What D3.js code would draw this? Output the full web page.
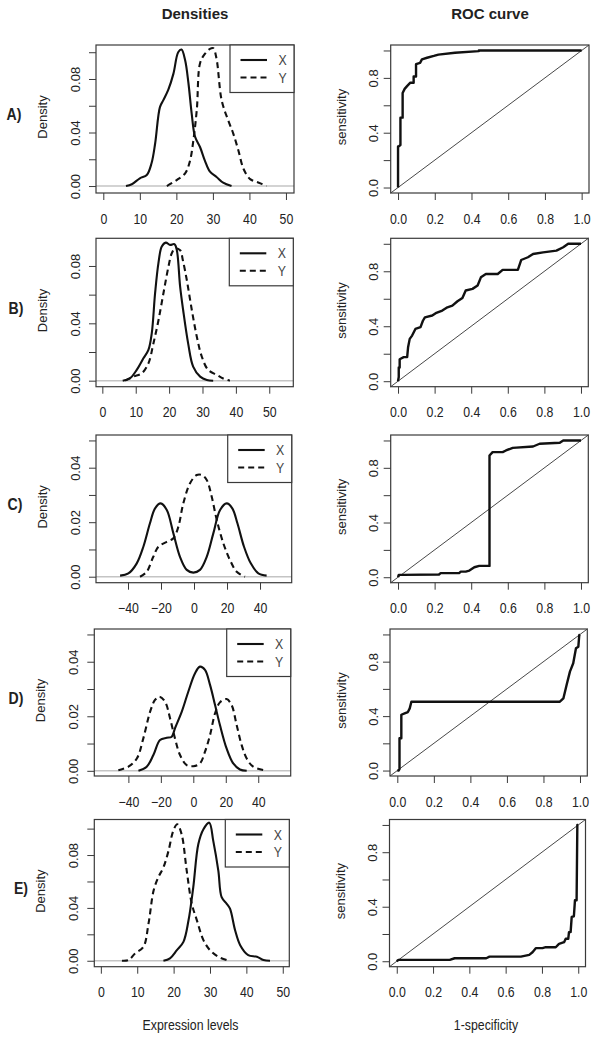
<!DOCTYPE html>
<html>
<head>
<meta charset="utf-8">
<script src="https://cdn.jsdelivr.net/npm/d3@7"></script>
<style>
  html, body { margin: 0; padding: 0; background: #fff; }
  svg { display: block; }
</style>
</head>
<body>
<svg id="chart" width="600" height="1040"></svg>
<script>
// ---------------- DATA ----------------
const panelLabels = ["A)", "B)", "C)", "D)", "E)"];
const seriesNames = ["X", "Y"];
const titleLeft = "Densities";
const titleRight = "ROC curve";
const xLabelLeft = "Expression levels";
const xLabelRight = "1-specificity";
const yLabelLeft = "Density";
const yLabelRight = "sensitivity";

const ticksPos50 = [0, 10, 20, 30, 40, 50];
const ticksPos40 = [-40, -20, 0, 20, 40];
const ticksDen10 = [0, 0.02, 0.04, 0.06, 0.08, 0.10];
const ticksDen08 = [0, 0.02, 0.04, 0.06, 0.08];
const ticksDen05 = [0, 0.01, 0.02, 0.03, 0.04, 0.05];
const ticksRoc = [0, 0.2, 0.4, 0.6, 0.8, 1.0];

// Panel A densities
const A_X_pos = [6.2, 7.8, 10.0, 11.9, 13.2, 14.2, 15.5, 16.4, 17.8, 19.2, 20.5, 21.4, 22.4, 23.3, 24.2, 25.1, 26.5, 27.8, 29.2, 31.0, 32.8, 35.1];
const A_X_den = [0, 0.0013, 0.0058, 0.0082, 0.017, 0.032, 0.059, 0.064, 0.072, 0.084, 0.100, 0.102, 0.094, 0.077, 0.054, 0.037, 0.029, 0.019, 0.0107, 0.0068, 0.0025, 0];
const A_Y_pos = [17.4, 20.1, 22.4, 23.7, 24.6, 25.6, 26.5, 27.8, 29.2, 30.1, 31.0, 32.4, 34.2, 35.6, 37.0, 38.4, 40.2, 42.4, 44.7];
const A_Y_den = [0, 0.0045, 0.0095, 0.0185, 0.033, 0.0573, 0.092, 0.0987, 0.1025, 0.103, 0.095, 0.064, 0.049, 0.039, 0.0264, 0.0127, 0.0052, 0.0027, 0];
// Panel B densities
const B_X_pos = [6.1, 8.3, 10.3, 12.3, 13.8, 14.8, 15.8, 16.8, 17.8, 19.0, 20.3, 21.6, 22.3, 23.3, 24.2, 25.7, 27.2, 29.3, 31.3, 33.2];
const B_X_den = [0, 0.0017, 0.0075, 0.0156, 0.0214, 0.033, 0.061, 0.082, 0.0935, 0.0963, 0.0947, 0.0952, 0.0912, 0.0656, 0.0493, 0.026, 0.0098, 0.0028, 0.0005, 0];
const B_Y_pos = [6.8, 9.3, 11.8, 13.8, 15.3, 16.8, 18.3, 19.8, 20.8, 21.8, 23.3, 24.1, 25.3, 26.8, 28.3, 29.8, 31.7, 34.3, 36.2, 38.2];
const B_Y_den = [0, 0.0028, 0.0051, 0.0121, 0.026, 0.042, 0.061, 0.0795, 0.0889, 0.0923, 0.091, 0.0842, 0.0702, 0.0493, 0.0307, 0.0167, 0.0075, 0.004, 0.0015, 0];
// Panel C densities
const C_X_pos = [-44.8, -39.8, -34.7, -30.7, -26.7, -23.6, -20.2, -16.5, -12.5, -8.5, -4.4, -0.4, 3.6, 7.7, 11.7, 15.8, 19.8, 23.2, 26.3, 30.3, 34.4, 39.0, 44.0];
const C_X_den = [0.0004, 0.0012, 0.0049, 0.011, 0.0196, 0.0251, 0.0269, 0.0245, 0.0159, 0.0073, 0.0025, 0.0015, 0.0025, 0.0073, 0.0159, 0.0245, 0.0269, 0.0251, 0.0196, 0.011, 0.0049, 0.0012, 0.0004];
const C_Y_pos = [-32.7, -28.7, -24.7, -21.6, -16.5, -12.5, -9.5, -6.5, -2.4, 1.6, 4.7, 7.7, 10.7, 13.8, 17.8, 21.8, 25.9, 30.9];
const C_Y_den = [0, 0.0018, 0.0073, 0.011, 0.0128, 0.0141, 0.0183, 0.0269, 0.0343, 0.0373, 0.0373, 0.0355, 0.0294, 0.0208, 0.0122, 0.0061, 0.0018, 0];
// Panel D densities
const D_X_pos = [-33.8, -28.7, -24.6, -20.5, -16.4, -13.3, -11.3, -7.1, -3.1, 1.0, 4.1, 7.2, 10.3, 13.4, 16.4, 20.5, 24.6, 28.7, 32.9];
const D_X_den = [0, 0.0015, 0.0058, 0.0113, 0.0121, 0.0125, 0.0156, 0.0217, 0.029, 0.0357, 0.0382, 0.037, 0.0315, 0.0241, 0.0168, 0.0082, 0.0027, 0.0005, 0];
const D_Y_pos = [-46.2, -40.0, -34.8, -30.8, -26.6, -23.6, -20.9, -17.4, -14.3, -11.3, -8.2, -4.1, 0, 4.1, 7.2, 10.3, 13.4, 16.4, 20.5, 23.6, 26.7, 29.8, 32.9, 36.9, 44.1];
const D_Y_den = [0.0002, 0.0015, 0.0045, 0.0119, 0.0217, 0.026, 0.0272, 0.0253, 0.0192, 0.0119, 0.0058, 0.0021, 0.0017, 0.0027, 0.007, 0.0131, 0.0211, 0.0251, 0.0263, 0.0241, 0.0168, 0.0094, 0.0045, 0.0015, 0.0002];
// Panel E densities
const E_X_pos = [17.2, 19.0, 20.9, 22.7, 24.1, 25.4, 26.8, 28.2, 29.8, 30.9, 32.3, 33.2, 34.6, 35.5, 36.9, 38.3, 40.5, 42.9, 44.7, 46.5];
const E_X_den = [0, 0.0018, 0.008, 0.0143, 0.0306, 0.0556, 0.0883, 0.0995, 0.1045, 0.0907, 0.068, 0.0481, 0.0431, 0.0394, 0.0231, 0.0118, 0.0043, 0.003, 0.0005, 0];
const E_Y_pos = [5.8, 7.6, 9.4, 11.7, 13.1, 14.5, 15.8, 17.2, 18.6, 19.9, 21.0, 22.2, 23.6, 25.0, 26.4, 28.2, 30.0, 32.3, 35.1];
const E_Y_den = [0, 0.0005, 0.0055, 0.0105, 0.0281, 0.0531, 0.0632, 0.0707, 0.0832, 0.0983, 0.1033, 0.0958, 0.0682, 0.0431, 0.0306, 0.0156, 0.008, 0.003, 0];

// ROC curves (1-specificity, sensitivity)
const A_roc_fpr = [0, 0, 0.004, 0.013, 0.013, 0.025, 0.025, 0.036, 0.049, 0.067, 0.085, 0.085, 0.098, 0.098, 0.12, 0.13, 0.158, 0.195, 0.22, 0.31, 0.44, 0.44, 1.0];
const A_roc_tpr = [0, 0.30, 0.30, 0.31, 0.51, 0.51, 0.69, 0.72, 0.74, 0.765, 0.765, 0.81, 0.81, 0.90, 0.91, 0.935, 0.947, 0.96, 0.97, 0.983, 0.995, 1.0, 1.0];
const B_roc_fpr = [0, 0.004, 0.004, 0.009, 0.009, 0.031, 0.05, 0.055, 0.064, 0.077, 0.095, 0.123, 0.136, 0.147, 0.187, 0.206, 0.242, 0.27, 0.297, 0.325, 0.352, 0.37, 0.407, 0.435, 0.453, 0.48, 0.545, 0.572, 0.655, 0.673, 0.71, 0.738, 0.793, 0.866, 0.903, 0.93, 1.0];
const B_roc_tpr = [0, 0.03, 0.10, 0.10, 0.16, 0.175, 0.175, 0.247, 0.308, 0.332, 0.38, 0.393, 0.44, 0.465, 0.478, 0.495, 0.514, 0.538, 0.55, 0.582, 0.606, 0.66, 0.672, 0.696, 0.756, 0.78, 0.78, 0.81, 0.81, 0.882, 0.902, 0.926, 0.938, 0.95, 0.975, 1.0, 1.0];
const C_roc_fpr = [0, 0.004, 0.022, 0.224, 0.233, 0.334, 0.343, 0.37, 0.39, 0.417, 0.444, 0.5, 0.5, 0.517, 0.572, 0.59, 0.627, 0.738, 0.774, 0.884, 0.903, 1.0];
const C_roc_tpr = [0, 0.017, 0.017, 0.02, 0.03, 0.03, 0.041, 0.041, 0.049, 0.073, 0.083, 0.083, 0.89, 0.915, 0.915, 0.927, 0.946, 0.956, 0.976, 0.983, 1.0, 1.0];
const D_roc_fpr = [0, 0.007, 0.012, 0.012, 0.022, 0.022, 0.04, 0.058, 0.068, 0.077, 0.89, 0.909, 0.927, 0.945, 0.963, 0.978, 0.991, 0.996, 1.0];
const D_roc_tpr = [0, 0, 0.01, 0.237, 0.237, 0.41, 0.42, 0.43, 0.457, 0.506, 0.506, 0.53, 0.63, 0.727, 0.788, 0.898, 0.91, 0.995, 1.0];
const E_roc_fpr = [0, 0.009, 0.292, 0.319, 0.493, 0.511, 0.684, 0.73, 0.748, 0.766, 0.803, 0.821, 0.876, 0.894, 0.922, 0.931, 0.945, 0.949, 0.958, 0.964, 0.976, 0.982, 0.991, 0.995, 1.0];
const E_roc_tpr = [0, 0.01, 0.01, 0.022, 0.022, 0.034, 0.034, 0.047, 0.066, 0.096, 0.096, 0.103, 0.103, 0.128, 0.14, 0.165, 0.165, 0.214, 0.214, 0.325, 0.33, 0.448, 0.448, 1.0, 1.0];

// ---------------- LAYOUT ----------------
const FONT = "'Liberation Sans', Arial, Helvetica, sans-serif";
const INK = "#222";
const BOX = "#3a3a3a";
const SX = 0.88; // horizontal squeeze of the original raster text

const rows = [
  { top: 45,    bottom: 193,   lx0: 96,   lx1: 294,   rx0: 390.7, rx1: 589,
    xd: [-2.0, 52.2], yd: [-0.0052, 0.1054], xt: ticksPos50, yt: ticksDen10,
    X: [A_X_pos, A_X_den], Y: [A_Y_pos, A_Y_den], roc: [A_roc_fpr, A_roc_tpr], lab: [14, 0] },
  { top: 238.3, bottom: 386.7, lx0: 96,   lx1: 293.3, rx0: 390.7, rx1: 588.3,
    xd: [-1.9, 57.2], yd: [-0.0042, 0.0993], xt: ticksPos50, yt: ticksDen08,
    X: [B_X_pos, B_X_den], Y: [B_Y_pos, B_Y_den], roc: [B_roc_fpr, B_roc_tpr], lab: [16, 0] },
  { top: 435,   bottom: 582.7, lx0: 96,   lx1: 291.7, rx0: 390.7, rx1: 588.3,
    xd: [-59.4, 59.2], yd: [-0.0022, 0.052], xt: ticksPos40, yt: ticksDen05,
    X: [C_X_pos, C_X_den], Y: [C_Y_pos, C_Y_den], roc: [C_roc_fpr, C_roc_tpr], lab: [15, 0] },
  { top: 629,   bottom: 776,   lx0: 94.3, lx1: 290.7, rx0: 390,   rx1: 587.3,
    xd: [-61, 60], yd: [-0.0019, 0.052], xt: ticksPos40, yt: ticksDen05,
    X: [D_X_pos, D_X_den], Y: [D_Y_pos, D_Y_den], roc: [D_roc_fpr, D_roc_tpr], lab: [16, 0] },
  { top: 819.5, bottom: 966.7, lx0: 94.3, lx1: 289.3, rx0: 389.5, rx1: 585.5,
    xd: [-1.8, 51.8], yd: [-0.0045, 0.1069], xt: ticksPos50, yt: ticksDen10,
    X: [E_X_pos, E_X_den], Y: [E_Y_pos, E_Y_den], roc: [E_roc_fpr, E_roc_tpr], lab: [21, 0] }
];

const svg = d3.select("#chart");
svg.append("rect").attr("width", 600).attr("height", 1040).attr("fill", "#fff");

function hText(g, x, y, str, size, weight, anchor) {
  return g.append("text")
    .attr("transform", `translate(${x},${y}) scale(${SX},1)`)
    .attr("text-anchor", anchor || "middle")
    .attr("font-family", FONT)
    .attr("font-size", size)
    .attr("font-weight", weight || "normal")
    .attr("fill", INK)
    .text(str);
}
function vText(g, x, y, str, size) {
  return g.append("text")
    .attr("transform", `translate(${x},${y}) rotate(-90)`)
    .attr("text-anchor", "middle")
    .attr("dy", "0.35em")
    .attr("font-family", FONT)
    .attr("font-size", size)
    .attr("fill", INK)
    .text(str);
}

function styleBottomAxis(g) {
  g.select(".domain").remove();
  g.selectAll(".tick line").attr("stroke", BOX).attr("stroke-width", 1);
  g.selectAll(".tick text")
    .attr("y", null).attr("dy", null)
    .attr("transform", `translate(0,30.5) scale(${SX},1)`)
    .attr("font-family", FONT).attr("font-size", 14).attr("fill", INK);
}
function styleLeftAxis(g, off) {
  g.select(".domain").remove();
  g.selectAll(".tick line").attr("stroke", BOX).attr("stroke-width", 1);
  g.selectAll(".tick text")
    .attr("x", null).attr("dy", "0.35em")
    .attr("transform", `translate(${-off},0) rotate(-90)`)
    .attr("text-anchor", "middle")
    .attr("font-family", FONT).attr("font-size", 13).attr("fill", INK);
}

// titles
svg.append("text").attr("x", 195).attr("y", 19).attr("text-anchor", "middle")
  .attr("font-family", FONT).attr("font-size", 15).attr("font-weight", "bold").attr("fill", INK).text(titleLeft);
svg.append("text").attr("x", 490).attr("y", 19).attr("text-anchor", "middle")
  .attr("font-family", FONT).attr("font-size", 15).attr("font-weight", "bold").attr("fill", INK).text(titleRight);

const dens = d3.line().curve(d3.curveCatmullRom.alpha(0.5));
const lin = d3.line();

rows.forEach((r, i) => {
  const mid = (r.top + r.bottom) / 2;

  // ---------- density panel ----------
  const xs = d3.scaleLinear().domain(r.xd).range([r.lx0, r.lx1]);
  const ys = d3.scaleLinear().domain(r.yd).range([r.bottom, r.top]);
  const g = svg.append("g");

  // zero line
  g.append("line").attr("x1", r.lx0).attr("x2", r.lx1)
    .attr("y1", ys(0)).attr("y2", ys(0))
    .attr("stroke", "#c4c4c4").attr("stroke-width", 1.4);

  const seriesXY = [r.X, r.Y];
  seriesXY.forEach((s, k) => {
    const pts = s[0].map((v, j) => [xs(v), ys(s[1][j])]);
    g.append("path").attr("d", dens(pts))
      .attr("fill", "none").attr("stroke", "#111").attr("stroke-width", 2.1)
      .attr("stroke-linejoin", "round")
      .attr("stroke-dasharray", k === 1 ? "6,4" : null);
  });

  // box
  g.append("rect").attr("x", r.lx0).attr("y", r.top)
    .attr("width", r.lx1 - r.lx0).attr("height", r.bottom - r.top)
    .attr("fill", "none").attr("stroke", BOX).attr("stroke-width", 1.2);

  // axes
  const fmtX = d3.format("d");
  const fmtY = r.yt.length === 6 && r.yt[5] < 0.07 ? d3.format(".2f") : d3.format(".2f");
  g.append("g").attr("transform", `translate(0,${r.bottom})`)
    .call(d3.axisBottom(xs).tickValues(r.xt).tickSize(7).tickFormat(fmtX))
    .call(styleBottomAxis);
  g.append("g").attr("transform", `translate(${r.lx0},0)`)
    .call(d3.axisLeft(ys).tickValues(r.yt).tickSize(7)
      .tickFormat((d, j) => j % 2 === 0 && j < 5 ? fmtY(d) : ""))
    .call(g2 => styleLeftAxis(g2, 20.5));

  // legend
  const lw = 64, lh = 47.5;
  const lx = r.lx1 - lw, ly = r.top;
  g.append("rect").attr("x", lx).attr("y", ly).attr("width", lw).attr("height", lh)
    .attr("fill", "#fff").attr("stroke", BOX).attr("stroke-width", 1.2);
  seriesNames.forEach((nm, k) => {
    const yy = ly + 15 + k * 17.5;
    g.append("line").attr("x1", lx + 10.5).attr("x2", lx + 37).attr("y1", yy).attr("y2", yy)
      .attr("stroke", "#111").attr("stroke-width", 2.1)
      .attr("stroke-dasharray", k === 1 ? "6,4" : null);
    hText(g, lx + 52.5, yy + 5, nm, 14, "normal", "middle").attr("fill", "#444");
  });

  // y label and panel label
  vText(g, r.lx0 - 54, mid - 2, yLabelLeft, 13);
  hText(g, r.lab[0], mid - 5 + 6, panelLabels[i], 16, "bold", "middle");

  // ---------- ROC panel ----------
  const rx = d3.scaleLinear().domain([-0.04, 1.04]).range([r.rx0, r.rx1]);
  const ry = d3.scaleLinear().domain([-0.04, 1.04]).range([r.bottom, r.top]);
  const h = svg.append("g");

  // diagonal
  h.append("path").attr("d", lin([[rx(-0.04), ry(-0.04)], [rx(1.04), ry(1.04)]]))
    .attr("stroke", "#333").attr("stroke-width", 0.9).attr("fill", "none");

  const rp = r.roc[0].map((v, j) => [rx(v), ry(r.roc[1][j])]);
  h.append("path").attr("d", lin(rp))
    .attr("fill", "none").attr("stroke", "#111").attr("stroke-width", 2.4)
    .attr("stroke-linejoin", "round");

  h.append("rect").attr("x", r.rx0).attr("y", r.top)
    .attr("width", r.rx1 - r.rx0).attr("height", r.bottom - r.top)
    .attr("fill", "none").attr("stroke", BOX).attr("stroke-width", 1.2);

  h.append("g").attr("transform", `translate(0,${r.bottom})`)
    .call(d3.axisBottom(rx).tickValues(ticksRoc).tickSize(7).tickFormat(d3.format(".1f")))
    .call(styleBottomAxis);
  h.append("g").attr("transform", `translate(${r.rx0},0)`)
    .call(d3.axisLeft(ry).tickValues(ticksRoc).tickSize(7)
      .tickFormat((d, j) => j % 2 === 0 && j < 5 ? d3.format(".1f")(d) : ""))
    .call(g2 => styleLeftAxis(g2, 17));

  vText(h, r.rx0 - 49, mid - 2, yLabelRight, 13);
});

// bottom axis titles
hText(svg, 190.5, 1029.5, xLabelLeft, 14, "normal", "middle");
hText(svg, 486, 1029.5, xLabelRight, 14, "normal", "middle");
</script>
</body>
</html>
